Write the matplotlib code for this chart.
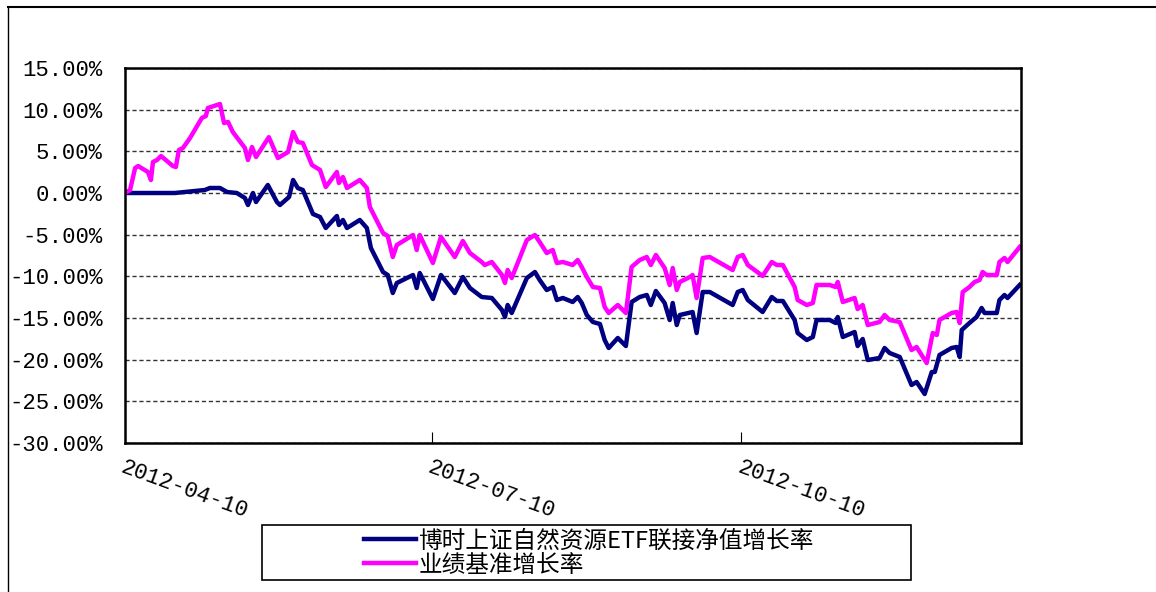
import numpy as np
import matplotlib
matplotlib.use("Agg")
import matplotlib.pyplot as plt
from matplotlib.lines import Line2D
from matplotlib.patches import Rectangle
from matplotlib.ticker import FuncFormatter

plt.rcParams['font.family'] = ['Liberation Mono', 'Noto Sans CJK SC', 'DejaVu Sans']

start_date = "2012-04-10"
tick_dates = ["2012-04-10", "2012-07-10", "2012-10-10"]
series_names = ["博时上证自然资源ETF联接净值增长率", "业绩基准增长率"]

# days after 2012-04-10, growth in %
fund_days = [0, 14.8, 23.7, 25.2, 28.2, 30.3, 33.2, 35.6, 36.5, 38.0,
             38.9, 42.4, 45.1, 46.0, 48.7, 49.9, 51.3, 52.8, 55.8, 57.9,
             59.6, 62.9, 63.5, 64.7, 65.9, 69.7, 71.8, 73.0, 76.6, 78.0,
             79.5, 80.7, 85.5, 86.6, 87.5, 91.4, 93.8, 97.9, 100.3, 102.4,
             105.9, 108.9, 111.9, 112.8, 113.6, 114.8, 119.3, 121.7, 123.1, 125.2,
             127.0, 128.2, 130.0, 132.9, 134.4, 135.6, 137.1, 138.9, 141.0, 142.4,
             143.6, 146.3, 148.7, 150.4, 152.8, 154.9, 156.1, 157.6, 160.2, 161.7,
             162.6, 163.8, 164.7, 168.5, 169.7, 171.5, 173.6, 180.4, 181.9, 183.4,
             184.9, 189.3, 192.0, 193.5, 195.3, 198.8, 199.7, 202.4, 204.2, 205.3,
             209.2, 211.0, 211.6, 213.1, 216.6, 217.5, 219.0, 220.5, 224.0, 225.5,
             227.0, 230.0, 233.5, 235.0, 237.4, 239.5, 240.4, 241.8, 245.4, 246.9,
             247.8, 248.4, 250.7, 252.8, 254.3, 255.2, 258.8, 259.6, 261.1, 262.0,
             265.6]
fund_vals = [0.0, 0.0, 0.36, 0.6, 0.6, 0.12, 0.0, -0.6, -1.44, 0.0,
             -1.08, 0.96, -1.08, -1.44, -0.48, 1.56, 0.6, 0.36, -2.52, -2.88,
             -4.2, -2.76, -3.84, -3.24, -4.2, -3.24, -4.2, -6.6, -9.48, -9.84,
             -12.0, -10.8, -9.84, -11.4, -9.6, -12.72, -9.84, -12.0, -10.08, -11.4,
             -12.48, -12.6, -14.04, -14.88, -13.44, -14.4, -10.2, -9.48, -10.44, -11.64,
             -11.28, -12.84, -12.6, -13.08, -12.48, -13.2, -14.64, -15.48, -15.72, -17.64,
             -18.6, -17.4, -18.36, -13.08, -12.48, -12.24, -13.44, -11.76, -13.2, -15.24,
             -13.2, -15.84, -14.64, -14.28, -16.8, -11.88, -11.88, -13.44, -11.88, -11.64,
             -12.84, -14.28, -12.48, -12.96, -12.96, -15.24, -16.8, -17.64, -17.28, -15.24,
             -15.24, -15.6, -14.88, -17.28, -16.68, -18.36, -17.52, -20.04, -19.8, -18.6,
             -19.2, -19.68, -23.04, -22.68, -24.12, -21.48, -21.48, -19.44, -18.6, -18.48,
             -19.68, -16.44, -15.6, -14.88, -13.8, -14.4, -14.4, -12.84, -12.24, -12.6,
             -11.04]

bench_days = [0, 1.5, 3.0, 3.9, 6.8, 7.7, 8.3, 9.5, 10.7, 14.2,
              15.1, 16.0, 17.2, 19.3, 22.8, 24.0, 24.6, 28.2, 29.4, 30.6,
              32.0, 35.6, 36.5, 37.7, 38.9, 42.7, 45.4, 48.4, 49.9, 51.3,
              52.8, 55.5, 57.9, 59.6, 62.9, 63.5, 64.7, 65.9, 69.7, 71.8,
              72.7, 76.6, 78.0, 79.5, 80.7, 85.5, 86.6, 87.5, 91.4, 93.8,
              97.9, 100.3, 102.4, 105.9, 106.8, 108.9, 111.9, 112.8, 113.6, 114.8,
              119.3, 121.7, 123.1, 125.2, 127.0, 128.2, 130.0, 132.9, 134.4, 135.6,
              137.1, 138.9, 141.0, 142.4, 143.6, 146.3, 148.7, 150.4, 152.8, 154.9,
              156.1, 157.6, 160.2, 161.7, 162.6, 163.8, 164.7, 167.7, 168.5, 169.7,
              171.5, 173.6, 180.4, 181.9, 183.4, 184.9, 189.3, 192.0, 193.5, 195.3,
              198.8, 199.7, 202.4, 204.2, 205.3, 209.2, 211.0, 211.6, 213.1, 216.6,
              217.5, 219.0, 220.5, 224.0, 225.5, 227.0, 230.0, 233.5, 235.0, 238.0,
              239.8, 241.0, 241.8, 245.4, 246.9, 247.8, 248.7, 250.7, 252.2, 253.7,
              254.6, 255.8, 258.8, 259.6, 261.1, 262.0, 265.6]
bench_vals = [0.0, 0.36, 3.0, 3.24, 2.52, 1.56, 3.72, 3.96, 4.44, 3.24,
              3.12, 5.16, 5.4, 6.6, 9.0, 9.24, 10.2, 10.68, 8.4, 8.52,
              7.32, 5.4, 3.96, 5.52, 4.32, 6.7, 4.2, 4.92, 7.32, 6.12,
              6.0, 3.36, 2.76, 0.72, 2.52, 1.2, 1.92, 0.6, 1.56, 0.6,
              -1.68, -4.8, -5.16, -7.68, -6.24, -5.04, -6.84, -5.04, -8.4, -5.28,
              -7.68, -5.76, -7.2, -8.28, -8.64, -8.28, -9.84, -10.8, -9.24, -10.2,
              -5.64, -5.04, -5.88, -7.2, -6.84, -8.4, -8.28, -8.64, -8.04, -8.88,
              -10.08, -11.28, -11.4, -13.68, -14.4, -13.44, -14.4, -8.88, -8.04, -7.68,
              -8.64, -7.44, -9.0, -11.04, -9.0, -11.64, -10.68, -10.08, -9.84, -12.6,
              -7.8, -7.68, -9.24, -7.68, -7.44, -8.64, -9.96, -8.28, -8.64, -8.64,
              -11.28, -12.84, -13.44, -13.2, -11.04, -11.04, -11.28, -10.68, -13.08, -12.6,
              -13.92, -13.44, -15.84, -15.48, -14.64, -15.24, -15.48, -18.84, -18.48, -20.4,
              -16.8, -17.04, -15.24, -14.4, -14.28, -15.6, -11.88, -11.28, -10.68, -10.44,
              -9.48, -9.84, -9.84, -8.28, -7.8, -8.28, -6.48]

W, H = 1156, 592
fig = plt.figure(figsize=(W / 100, H / 100), dpi=100)

# outer frame (top and left only, like the cropped screenshot)
fig.add_artist(Line2D([8 / W, 1], [1 - 7 / H, 1 - 7 / H], color="black", lw=1.5))
fig.add_artist(Line2D([8 / W, 8 / W], [0, 1 - 7 / H], color="black", lw=1.0))

ax = fig.add_axes([125 / W, 1 - 443 / H, 896 / W, 375 / H])

ax.plot(fund_days, fund_vals, color="#000080", lw=3.2, label=series_names[0], solid_joinstyle="round")
ax.plot(bench_days, bench_vals, color="#FF00FF", lw=3.2, label=series_names[1], solid_joinstyle="round")

ax.set_xlim(0, 266)
ax.set_ylim(-30, 15)
ax.set_yticks(np.arange(-30, 16, 5))
ax.yaxis.set_major_formatter(FuncFormatter(lambda v, p: "%.2f%%" % v))
ax.grid(axis="y", color="#333333", linestyle=(0, (3, 2)), lw=1.0)

t0 = np.datetime64(start_date)
tick_pos = [(np.datetime64(d) - t0).astype(int) for d in tick_dates]
ax.set_xticks(tick_pos)
ax.set_xticklabels(tick_dates, rotation=-20, ha="left", va="top", rotation_mode="anchor")

ax.tick_params(axis="y", labelsize=16, length=0, pad=16, colors="black")
ax.tick_params(axis="x", labelsize=16, direction="in", length=8, pad=10)
for s in ax.spines.values():
    s.set_linewidth(1.8)

# legend box
fig.add_artist(Rectangle((262 / W, 1 - 580 / H), 649 / W, 55 / H, transform=fig.transFigure,
                         fill=False, edgecolor="black", lw=1.2))
fig.legend(loc="center", bbox_to_anchor=(589 / W, 1 - 553 / H), frameon=False,
           prop={"family": "Noto Sans CJK SC", "size": 17}, handlelength=2.2,
           handletextpad=0.1, labelspacing=0.05, borderpad=0)

fig.savefig("out.png", dpi=100)
